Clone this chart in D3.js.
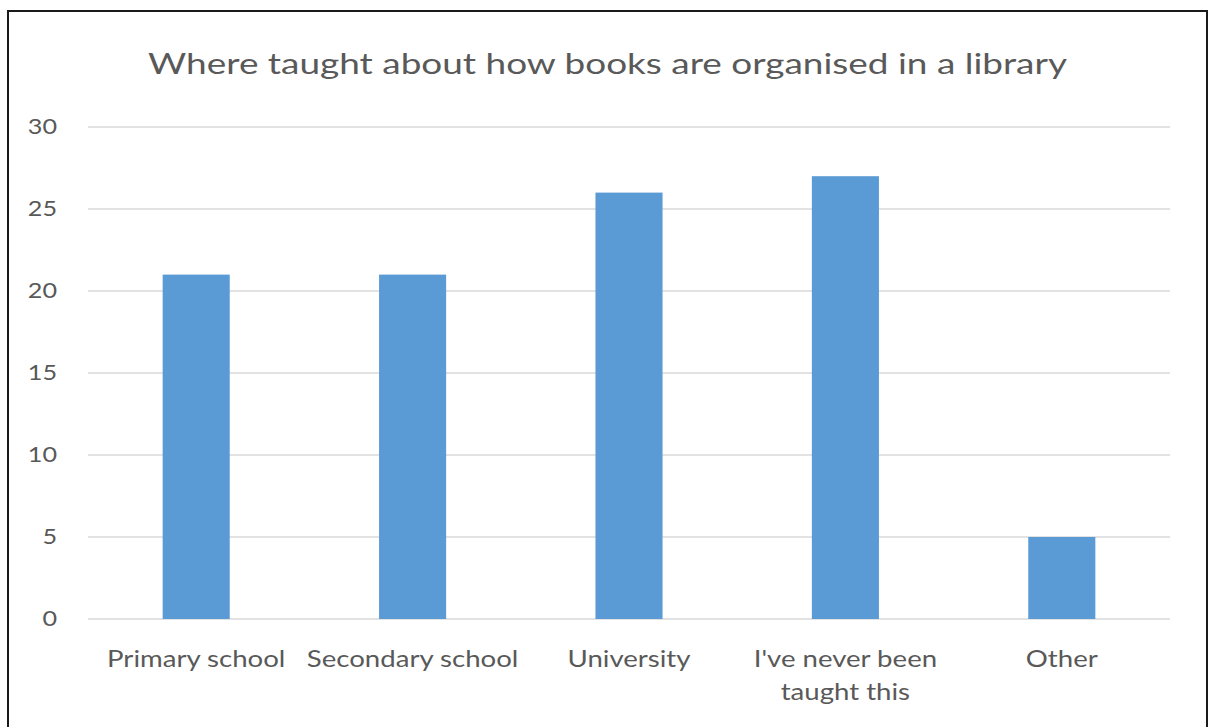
<!DOCTYPE html>
<html>
<head>
<meta charset="utf-8">
<script src="https://cdn.jsdelivr.net/npm/d3@7"></script>
<style>
  html, body { margin: 0; padding: 0; background: #fff; }
  svg { display: block; }
  text { font-family: Lato, "Open Sans", sans-serif; fill: #595959; }
</style>
</head>
<body>
<svg id="chart" width="1214" height="727"></svg>
<script>
const categories = ["Primary school", "Secondary school", "University", "I've never been taught this", "Other"];
const categoryLines = [["Primary school"], ["Secondary school"], ["University"], ["I've never been", "taught this"], ["Other"]];
const counts = [21, 21, 26, 27, 5];
const yTicks = [0, 5, 10, 15, 20, 25, 30];
const title = "Where taught about how books are organised in a library";

const svg = d3.select("#chart");
const plot = { left: 88, right: 1170, top: 127, bottom: 619 };

// widen glyphs horizontally around the anchor point ax
function stretch(sel, s, ax) {
  sel.attr("transform", `translate(${ax * (1 - s)},0) scale(${s},1)`);
}

// frame around the chart area
svg.append("rect")
  .attr("x", 8).attr("y", 11)
  .attr("width", 1199).attr("height", 730)
  .attr("fill", "none").attr("stroke", "#1a1a1a").attr("stroke-width", 2);

const t = svg.append("text")
  .attr("x", 607.5).attr("y", 74)
  .attr("text-anchor", "middle")
  .style("font-size", "28px")
  .text(title);
stretch(t, 1.32, 607.5);

const x = d3.scaleBand().domain(categories).range([plot.left, plot.right]).paddingInner(0.69).paddingOuter(0.345);
const y = d3.scaleLinear().domain([0, 30]).range([plot.bottom, plot.top]);

// horizontal gridlines
svg.append("g").selectAll("line").data(yTicks).join("line")
  .attr("x1", plot.left).attr("x2", plot.right)
  .attr("y1", d => y(d)).attr("y2", d => y(d))
  .attr("stroke", "#d9d9d9").attr("stroke-width", 1.5);

// y-axis labels
const yAxis = d3.axisLeft(y).tickValues(yTicks).tickSize(0).tickPadding(0);
const gy = svg.append("g").attr("transform", "translate(57,0)").call(yAxis);
gy.select(".domain").remove();
gy.selectAll("text").style("font-size", "21px").attr("fill", "#595959").attr("dy", "0.3em")
  .attr("transform", "scale(1.2,1)");

// bars
svg.append("g").selectAll("rect").data(counts).join("rect")
  .attr("x", (d, i) => x(categories[i]))
  .attr("width", x.bandwidth())
  .attr("y", d => y(d))
  .attr("height", d => y(0) - y(d))
  .attr("fill", "#5b9bd5");

// category labels
svg.append("g").selectAll("text").data(categories).join("text")
  .attr("x", d => x(d) + x.bandwidth() / 2)
  .attr("y", 667)
  .attr("text-anchor", "middle")
  .style("font-size", "23px")
  .each(function(d, i) {
    const cx = x(d) + x.bandwidth() / 2;
    const el = d3.select(this);
    categoryLines[i].forEach((line, k) => {
      el.append("tspan").attr("x", cx).attr("dy", k === 0 ? 0 : 33).text(line);
    });
    stretch(el, 1.2, cx);
  });
</script>
</body>
</html>
